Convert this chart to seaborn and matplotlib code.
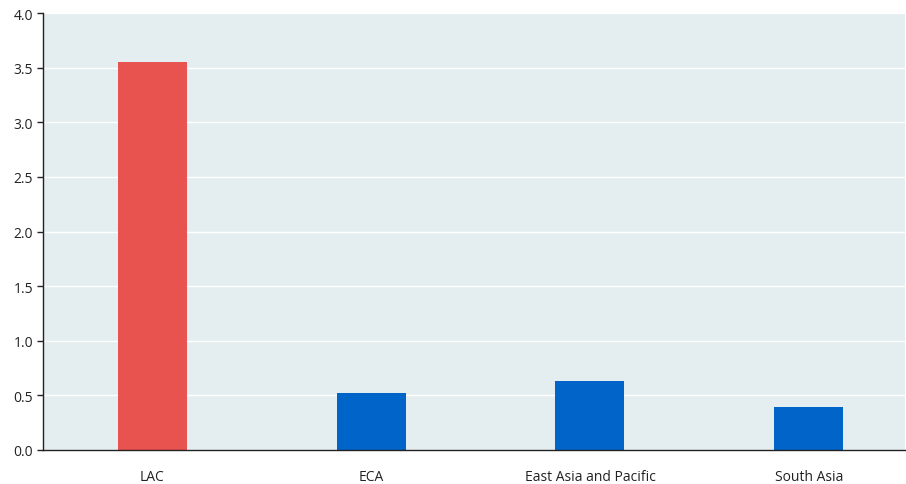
import matplotlib
matplotlib.use("Agg")
import matplotlib.pyplot as plt
import seaborn as sns
import pandas as pd

categories = ["LAC", "ECA", "East Asia and Pacific", "South Asia"]
values = [3.55, 0.52, 0.63, 0.39]
colors = ["#E8524F", "#0064C8", "#0064C8", "#0064C8"]
yticks = [0.0, 0.5, 1.0, 1.5, 2.0, 2.5, 3.0, 3.5, 4.0]

sns.set_theme(style="white")
plt.rcParams["font.family"] = ["Open Sans", "DejaVu Sans"]

df = pd.DataFrame({"region": categories, "value": values})

fig = plt.figure(figsize=(9.06, 4.85), dpi=100)
ax = fig.add_axes([43 / 906, 1 - 451 / 485, (905 - 43) / 906, (451 - 14) / 485])
ax.set_facecolor("#E4EEF0")

sns.barplot(data=df, x="region", y="value", hue="region", palette=colors,
            legend=False, width=0.315, saturation=1, linewidth=0, ax=ax)

ax.set_ylim(0, 4)
ax.set_xlim(-0.5, 3.44)
ax.set_yticks(yticks)
ax.set_yticklabels([f"{t:.1f}" for t in yticks])
ax.yaxis.grid(True, color="white", linewidth=1)
ax.set_axisbelow(True)
ax.set_xlabel("")
ax.set_ylabel("")

for s in ["top", "right"]:
    ax.spines[s].set_visible(False)
for s in ["left", "bottom"]:
    ax.spines[s].set_color("#222222")
    ax.spines[s].set_linewidth(1)

ax.tick_params(axis="y", length=4, width=1, color="#222222", labelsize=10, pad=3, labelcolor="#222222", left=True)
ax.tick_params(axis="x", length=0, labelsize=10, pad=14, labelcolor="#222222")

fig.savefig("out.png", dpi=100)
